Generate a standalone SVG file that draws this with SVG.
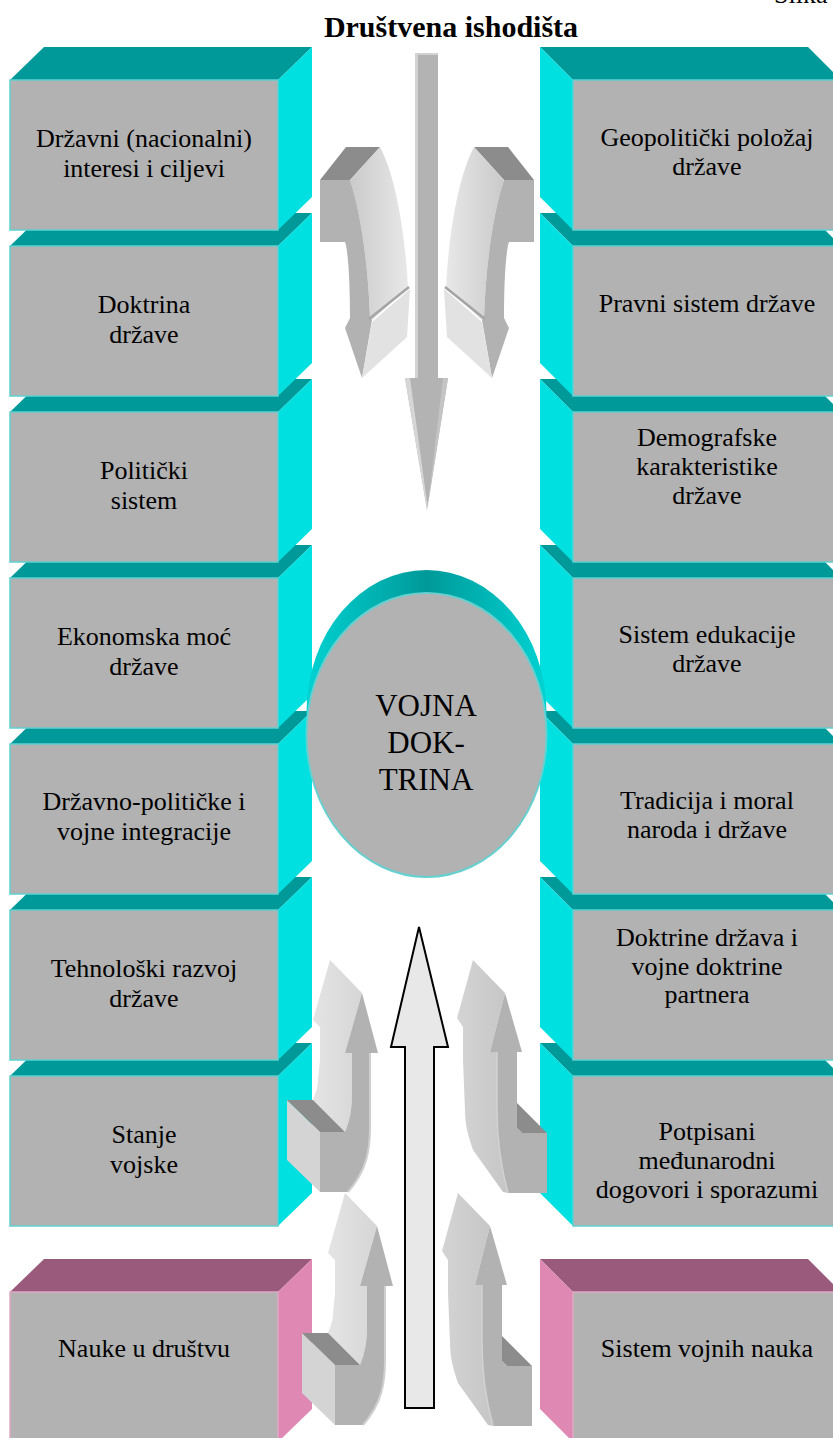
<svg xmlns="http://www.w3.org/2000/svg" width="833" height="1438" viewBox="0 0 833 1438">
<style>
.top{fill:#009999}
.side{fill:#00e0e0}
.front{fill:#b2b2b2;stroke:#5fcfcf;stroke-width:1.5}
.ptop{fill:#9a5a7c}
.pside{fill:#e088b4}
.pfront{fill:#b2b2b2;stroke:#e0a8c4;stroke-width:1.5}
.dark{fill:#8c8c8c}
.mid{fill:#b2b2b2}
.end{fill:#d4d4d4}
</style>
<defs>
<linearGradient id="cyl" x1="0" y1="0" x2="1" y2="0">
<stop offset="0" stop-color="#00d2d2"/>
<stop offset="0.5" stop-color="#009999"/>
<stop offset="1" stop-color="#00d2d2"/>
</linearGradient>
<linearGradient id="lightL" x1="0" y1="0" x2="1" y2="0">
<stop offset="0" stop-color="#cacaca"/>
<stop offset="1" stop-color="#e8e8e8"/>
</linearGradient>
<linearGradient id="lightR" x1="0" y1="0" x2="1" y2="0">
<stop offset="0" stop-color="#d4d4d4"/>
<stop offset="1" stop-color="#c6c6c6"/>
</linearGradient>
<linearGradient id="lightB" x1="0" y1="0" x2="1" y2="0">
<stop offset="0" stop-color="#e4e4e4"/>
<stop offset="1" stop-color="#d6d6d6"/>
</linearGradient>
<g id="arrowTL">
<polygon class="dark" points="320,180 346,147 380,147 350,180"/>
<path fill="url(#lightL)" d="M350,180 L380,147 C395,175 405,230 408,287 L372,320 L370,318 C368,260 360,210 350,180 Z"/>
<path class="mid" d="M320,180 L350,180 C360,210 368,260 370,318 L372,320 L362,378 L345,328 L350,318 C350,290 349,262 346,245 L345,242 L320,242 Z"/>
<polygon fill="#e2e2e2" points="372,322 410,289 407,337 362,378"/>
<line x1="369" y1="319" x2="409" y2="287" stroke="#a4a4a4" stroke-width="2.5"/>
</g>
<g id="arrowBL">
<path fill="url(#lightB)" d="M330,960 L362,993 L345,1053 L352,1053 L352,1093 C352,1108 350,1120 345,1132 L313,1100 C316,1092 318,1087 318,1080 L320,1060 L320,1027 L313,1020 Z"/>
<path class="mid" d="M362,993 L378,1053 L370,1053 L370,1127 C370,1150 367,1170 348,1192 L320,1192 L320,1132 L345,1132 C350,1120 352,1108 352,1093 L352,1053 L345,1053 Z"/>
<path d="M370,1053 L370,1127 C370,1150 367,1170 348,1192" fill="none" stroke="#cfcfcf" stroke-width="2"/>
<polygon class="end" points="287,1100 320,1132 320,1192 287,1160"/>
<polygon class="dark" points="287,1100 313,1100 345,1132 320,1132"/>
</g>
<g id="arrowBR">
<path fill="url(#lightR)" d="M473,960 L505,993 L490,1052 L497,1052 L497,1110 C497,1135 499,1160 508,1193 L503,1192 L473,1150 C468,1135 465,1125 465,1110 L463,1060 L463,1027 L457,1018 Z"/>
<path class="mid" d="M505,993 L522,1052 L517,1052 L517,1128 L522,1133 L547,1133 L547,1193 L508,1193 C499,1160 497,1135 497,1110 L497,1052 L490,1052 Z"/>
<path d="M497,1052 L497,1110 C497,1135 499,1160 508,1193" fill="none" stroke="#d2d2d2" stroke-width="1.5"/>
<polygon class="dark" points="517,1103 547,1133 522,1133 517,1128"/>
</g>
</defs>

<text x="774" y="3" style="font-family:'Liberation Serif','Times New Roman',serif;font-size:26px;fill:#000">Slika</text>
<text x="451" y="37" style="font-family:'Liberation Serif','Times New Roman',serif;font-size:30px;font-weight:bold;fill:#000;text-anchor:middle">Društvena ishodišta</text>

<!-- pink boxes -->
<g id="nauke-u-drustvu">
<polygon class="ptop" points="10,1292 44,1259 312,1259 278,1292"/>
<polygon class="pside" points="278,1292 312,1259 312,1409 278,1442"/>
<rect class="pfront" x="10" y="1292" width="268" height="150"/>
<text x="144" y="1357" style="font-family:'Liberation Serif','Times New Roman',serif;font-size:26px;fill:#000;text-anchor:middle">Nauke u društvu</text>
</g>
<g id="sistem-vojnih-nauka">
<polygon class="ptop" points="573,1292 540,1259 808,1259 841,1292"/>
<polygon class="pside" points="540,1259 573,1292 573,1442 540,1409"/>
<rect class="pfront" x="573" y="1292" width="268" height="150"/>
<text x="707" y="1357" style="font-family:'Liberation Serif','Times New Roman',serif;font-size:26px;fill:#000;text-anchor:middle">Sistem vojnih nauka</text>
</g>

<!-- left column, drawn bottom to top -->
<g id="stanje-vojske">
<polygon class="top" points="10,1076 44,1043 312,1043 278,1076"/>
<polygon class="side" points="278,1076 312,1043 312,1193 278,1226"/>
<rect class="front" x="10" y="1076" width="268" height="150"/>
<text x="144" y="1143" style="font-family:'Liberation Serif','Times New Roman',serif;font-size:26px;fill:#000;text-anchor:middle">Stanje</text>
<text x="144" y="1173" style="font-family:'Liberation Serif','Times New Roman',serif;font-size:26px;fill:#000;text-anchor:middle">vojske</text>
</g>
<g id="tehnoloski-razvoj">
<polygon class="top" points="10,910 44,877 312,877 278,910"/>
<polygon class="side" points="278,910 312,877 312,1027 278,1060"/>
<rect class="front" x="10" y="910" width="268" height="150"/>
<text x="144" y="977" style="font-family:'Liberation Serif','Times New Roman',serif;font-size:26px;fill:#000;text-anchor:middle">Tehnološki razvoj</text>
<text x="144" y="1007" style="font-family:'Liberation Serif','Times New Roman',serif;font-size:26px;fill:#000;text-anchor:middle">države</text>
</g>
<g id="drzavno-politicke-integracije">
<polygon class="top" points="10,744 44,711 312,711 278,744"/>
<polygon class="side" points="278,744 312,711 312,861 278,894"/>
<rect class="front" x="10" y="744" width="268" height="150"/>
<text x="144" y="810" style="font-family:'Liberation Serif','Times New Roman',serif;font-size:26px;fill:#000;text-anchor:middle">Državno-političke i</text>
<text x="144" y="840" style="font-family:'Liberation Serif','Times New Roman',serif;font-size:26px;fill:#000;text-anchor:middle">vojne integracije</text>
</g>
<g id="ekonomska-moc">
<polygon class="top" points="10,578 44,545 312,545 278,578"/>
<polygon class="side" points="278,578 312,545 312,695 278,728"/>
<rect class="front" x="10" y="578" width="268" height="150"/>
<text x="144" y="645" style="font-family:'Liberation Serif','Times New Roman',serif;font-size:26px;fill:#000;text-anchor:middle">Ekonomska moć</text>
<text x="144" y="675" style="font-family:'Liberation Serif','Times New Roman',serif;font-size:26px;fill:#000;text-anchor:middle">države</text>
</g>
<g id="politicki-sistem">
<polygon class="top" points="10,412 44,379 312,379 278,412"/>
<polygon class="side" points="278,412 312,379 312,529 278,562"/>
<rect class="front" x="10" y="412" width="268" height="150"/>
<text x="144" y="479" style="font-family:'Liberation Serif','Times New Roman',serif;font-size:26px;fill:#000;text-anchor:middle">Politički</text>
<text x="144" y="509" style="font-family:'Liberation Serif','Times New Roman',serif;font-size:26px;fill:#000;text-anchor:middle">sistem</text>
</g>
<g id="doktrina-drzave">
<polygon class="top" points="10,246 44,213 312,213 278,246"/>
<polygon class="side" points="278,246 312,213 312,363 278,396"/>
<rect class="front" x="10" y="246" width="268" height="150"/>
<text x="144" y="313" style="font-family:'Liberation Serif','Times New Roman',serif;font-size:26px;fill:#000;text-anchor:middle">Doktrina</text>
<text x="144" y="343" style="font-family:'Liberation Serif','Times New Roman',serif;font-size:26px;fill:#000;text-anchor:middle">države</text>
</g>
<g id="drzavni-interesi">
<polygon class="top" points="10,80 44,47 312,47 278,80"/>
<polygon class="side" points="278,80 312,47 312,197 278,230"/>
<rect class="front" x="10" y="80" width="268" height="150"/>
<text x="144" y="147" style="font-family:'Liberation Serif','Times New Roman',serif;font-size:26px;fill:#000;text-anchor:middle">Državni (nacionalni)</text>
<text x="144" y="177" style="font-family:'Liberation Serif','Times New Roman',serif;font-size:26px;fill:#000;text-anchor:middle">interesi i ciljevi</text>
</g>

<!-- right column -->
<g id="potpisani-dogovori">
<polygon class="top" points="573,1076 540,1043 808,1043 841,1076"/>
<polygon class="side" points="540,1043 573,1076 573,1226 540,1193"/>
<rect class="front" x="573" y="1076" width="268" height="150"/>
<text x="707" y="1140" style="font-family:'Liberation Serif','Times New Roman',serif;font-size:26px;fill:#000;text-anchor:middle">Potpisani</text>
<text x="707" y="1169" style="font-family:'Liberation Serif','Times New Roman',serif;font-size:26px;fill:#000;text-anchor:middle">međunarodni</text>
<text x="707" y="1198" style="font-family:'Liberation Serif','Times New Roman',serif;font-size:26px;fill:#000;text-anchor:middle">dogovori i sporazumi</text>
</g>
<g id="doktrine-partnera">
<polygon class="top" points="573,910 540,877 808,877 841,910"/>
<polygon class="side" points="540,877 573,910 573,1060 540,1027"/>
<rect class="front" x="573" y="910" width="268" height="150"/>
<text x="707" y="946" style="font-family:'Liberation Serif','Times New Roman',serif;font-size:26px;fill:#000;text-anchor:middle">Doktrine država i</text>
<text x="707" y="975" style="font-family:'Liberation Serif','Times New Roman',serif;font-size:26px;fill:#000;text-anchor:middle">vojne doktrine</text>
<text x="707" y="1003" style="font-family:'Liberation Serif','Times New Roman',serif;font-size:26px;fill:#000;text-anchor:middle">partnera</text>
</g>
<g id="tradicija-moral">
<polygon class="top" points="573,744 540,711 808,711 841,744"/>
<polygon class="side" points="540,711 573,744 573,894 540,861"/>
<rect class="front" x="573" y="744" width="268" height="150"/>
<text x="707" y="809" style="font-family:'Liberation Serif','Times New Roman',serif;font-size:26px;fill:#000;text-anchor:middle">Tradicija i moral</text>
<text x="707" y="838" style="font-family:'Liberation Serif','Times New Roman',serif;font-size:26px;fill:#000;text-anchor:middle">naroda i države</text>
</g>
<g id="sistem-edukacije">
<polygon class="top" points="573,578 540,545 808,545 841,578"/>
<polygon class="side" points="540,545 573,578 573,728 540,695"/>
<rect class="front" x="573" y="578" width="268" height="150"/>
<text x="707" y="643" style="font-family:'Liberation Serif','Times New Roman',serif;font-size:26px;fill:#000;text-anchor:middle">Sistem edukacije</text>
<text x="707" y="672" style="font-family:'Liberation Serif','Times New Roman',serif;font-size:26px;fill:#000;text-anchor:middle">države</text>
</g>
<g id="demografske-karakteristike">
<polygon class="top" points="573,412 540,379 808,379 841,412"/>
<polygon class="side" points="540,379 573,412 573,562 540,529"/>
<rect class="front" x="573" y="412" width="268" height="150"/>
<text x="707" y="446" style="font-family:'Liberation Serif','Times New Roman',serif;font-size:26px;fill:#000;text-anchor:middle">Demografske</text>
<text x="707" y="475" style="font-family:'Liberation Serif','Times New Roman',serif;font-size:26px;fill:#000;text-anchor:middle">karakteristike</text>
<text x="707" y="504" style="font-family:'Liberation Serif','Times New Roman',serif;font-size:26px;fill:#000;text-anchor:middle">države</text>
</g>
<g id="pravni-sistem">
<polygon class="top" points="573,246 540,213 808,213 841,246"/>
<polygon class="side" points="540,213 573,246 573,396 540,363"/>
<rect class="front" x="573" y="246" width="268" height="150"/>
<text x="707" y="312" style="font-family:'Liberation Serif','Times New Roman',serif;font-size:26px;fill:#000;text-anchor:middle">Pravni sistem države</text>
</g>
<g id="geopoliticki-polozaj">
<polygon class="top" points="573,80 540,47 808,47 841,80"/>
<polygon class="side" points="540,47 573,80 573,230 540,197"/>
<rect class="front" x="573" y="80" width="268" height="150"/>
<text x="707" y="146" style="font-family:'Liberation Serif','Times New Roman',serif;font-size:26px;fill:#000;text-anchor:middle">Geopolitički položaj</text>
<text x="707" y="175" style="font-family:'Liberation Serif','Times New Roman',serif;font-size:26px;fill:#000;text-anchor:middle">države</text>
</g>

<!-- central node -->
<g id="vojna-doktrina">
<ellipse cx="426.5" cy="712" rx="120" ry="142" fill="url(#cyl)"/>
<ellipse cx="426.5" cy="735" rx="120" ry="142" fill="#b2b2b2" stroke="#66d0d0" stroke-width="2"/>
<text x="426" y="716" style="font-family:'Liberation Serif','Times New Roman',serif;font-size:31px;fill:#000;text-anchor:middle">VOJNA</text>
<text x="426" y="753" style="font-family:'Liberation Serif','Times New Roman',serif;font-size:31px;fill:#000;text-anchor:middle">DOK-</text>
<text x="426" y="790" style="font-family:'Liberation Serif','Times New Roman',serif;font-size:31px;fill:#000;text-anchor:middle">TRINA</text>
</g>

<!-- connectors -->
<g id="connectors">
<g id="arrow-down-main">
<rect x="415" y="53" width="23" height="325" fill="#b3b3b3"/>
<rect x="415" y="53" width="3" height="325" fill="#d2d2d2"/>
<rect x="415" y="53" width="23" height="2" fill="#d2d2d2"/>
<polygon points="405,378 448,378 427,510" fill="#b3b3b3"/>
<polygon points="405,378 410,378 427,502 427,510" fill="#d6d6d6"/>
<polygon points="443,378 448,378 428,505" fill="#c4c4c4"/>
</g>
<use href="#arrowTL"/>
<use href="#arrowTL" transform="translate(854,0) scale(-1,1)"/>
<use href="#arrowBL"/>
<use href="#arrowBL" transform="translate(15,233)"/>
<use href="#arrowBR"/>
<use href="#arrowBR" transform="translate(-15,233)"/>
<polygon id="arrow-up-main" points="419,927 448,1047 434,1047 434,1408 405,1408 405,1047 391,1047" fill="#e8e8e8" stroke="#000" stroke-width="2"/>
</g>
</svg>
